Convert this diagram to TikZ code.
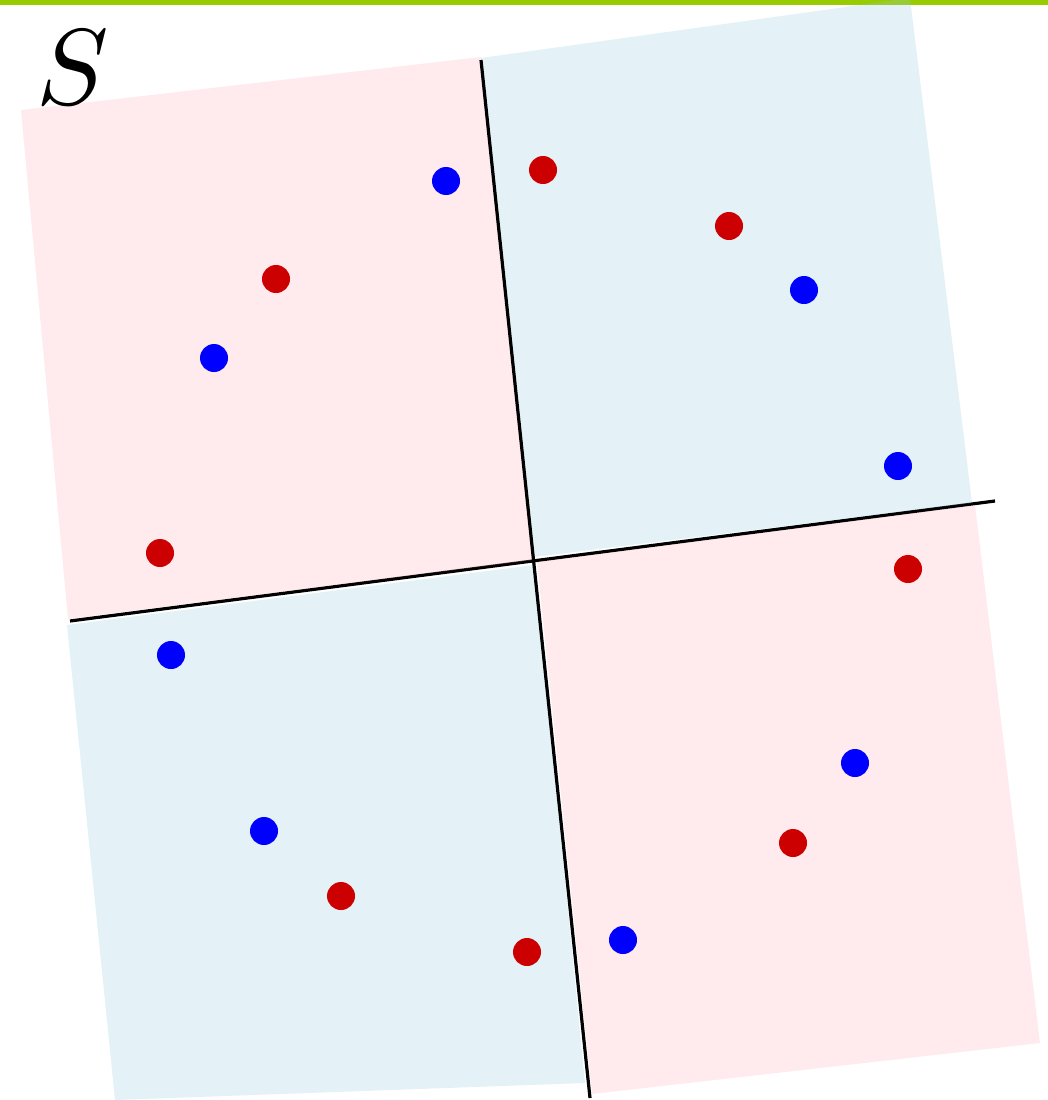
\documentclass[tikz,border=0pt]{standalone}
\definecolor{barG}{RGB}{153,204,0}
\definecolor{pinkC}{RGB}{255,175,187}
\definecolor{blueC}{RGB}{147,204,223}
\definecolor{dotR}{RGB}{204,0,0}
\definecolor{dotB}{RGB}{0,0,255}
\begin{document}
\begin{tikzpicture}[x=1pt,y=-1pt,
  pinkq/.style={fill=pinkC,fill opacity=0.25},
  blueq/.style={fill=blueC,fill opacity=0.25},
  sepline/.style={line width=3.2pt,black},
  rdot/.style={fill=dotR},
  bdot/.style={fill=dotB}]
\useasboundingbox (0,0) rectangle (1048,1100);
% top bar
\fill[barG] (0,0) rectangle (1048,4.5);
% horizontal separator (under the regions)
\coordinate (hl) at (70,621);
\coordinate (hr) at (995,501);
\draw[sepline] (hl) -- (hr);
% regions
\fill[pinkq] (21,110) -- (481,57) -- (533,560) -- (68,619) -- cycle;
\fill[blueq] (481,58) -- (910,-2) -- (972,503) -- (534,557) -- cycle;
\fill[pinkq] (537,562) -- (975,505) -- (1040,1043) -- (592,1094) -- cycle;
\fill[blueq] (67,625) -- (534,565) -- (585,1083) -- (115,1100) -- cycle;
% vertical separator
\coordinate (vt) at (481,60);
\coordinate (vb) at (590,1098);
\draw[sepline] (vt) -- (vb);
% label
\node[inner sep=0pt,scale=10.8] (S) at (73,68) {$S$};
% points
\foreach \p in {(446,181),(214,358),(804,290),(898,466),(171,655),(264,831),(855,763),(623,940)}
  \fill[bdot] \p circle (14);
\foreach \p in {(543,170),(729,226),(276,279),(160,553),(908,569),(341,896),(793,843),(527,952)}
  \fill[rdot] \p circle (14);
\end{tikzpicture}
\end{document}
